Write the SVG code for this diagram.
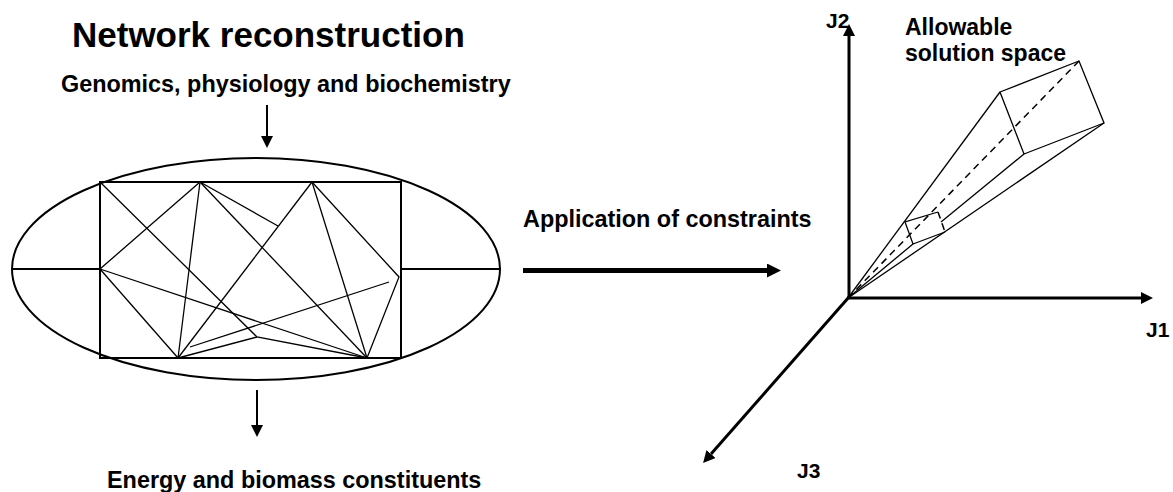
<svg xmlns="http://www.w3.org/2000/svg" width="1173" height="492" viewBox="0 0 1173 492">
<defs>
<style>
text{font-family:"Liberation Sans",Arial,sans-serif;font-weight:bold;fill:#000}
.t1{font-size:35px}
.t2{font-size:23.4px}
.t3{font-size:23px}
.ax{font-size:21px}
.thin{stroke:#000;stroke-width:1.3;fill:none}
.frame{stroke:#000;stroke-width:2;fill:none}
.axis{stroke:#000;stroke-width:3;fill:none}
.dash{stroke:#000;stroke-width:1.5;fill:none;stroke-dasharray:7 5}
.arrow{stroke:#000;stroke-width:2;fill:none}
</style>
<marker id="ahS" markerUnits="userSpaceOnUse" viewBox="0 0 12 12" refX="0" refY="6" markerWidth="12" markerHeight="12" orient="auto"><path d="M0,0 L12,6 L0,12 z" fill="#000"/></marker>
<marker id="ahA" markerUnits="userSpaceOnUse" viewBox="0 0 12 12" refX="0" refY="6" markerWidth="12" markerHeight="12" orient="auto"><path d="M0,0 L12,6 L0,12 z" fill="#000"/></marker>
<marker id="ahB" markerUnits="userSpaceOnUse" viewBox="0 0 14 14" refX="0" refY="7" markerWidth="14" markerHeight="14" orient="auto"><path d="M0,0 L14,7 L0,14 z" fill="#000"/></marker>
</defs>
<rect width="1173" height="492" fill="#fff"/>

<g id="network">
<ellipse cx="256" cy="269" rx="244" ry="111" class="frame" stroke-width="1.7"/>
<rect x="100" y="182" width="301" height="176" class="frame"/>
<line x1="12" y1="269" x2="100" y2="269" class="frame"/>
<line x1="401" y1="269" x2="500" y2="269" class="frame"/>
<polyline points="100,182 257,337 367,358" class="thin"/>
<line x1="200" y1="182" x2="100" y2="269" class="thin"/>
<line x1="200" y1="182" x2="178" y2="358" class="thin"/>
<line x1="200" y1="182" x2="278" y2="226" class="thin"/>
<line x1="200" y1="182" x2="367" y2="358" class="thin"/>
<line x1="312" y1="182" x2="178" y2="358" class="thin"/>
<line x1="312" y1="182" x2="367" y2="358" class="thin"/>
<polyline points="312,182 399,277 367,358" class="thin"/>
<line x1="100" y1="269" x2="178" y2="358" class="thin"/>
<line x1="100" y1="269" x2="367" y2="358" class="thin"/>
<line x1="190" y1="347" x2="389" y2="282" class="thin"/>
<line x1="178" y1="358" x2="257" y2="337" class="thin"/>
</g>

<g id="solution-space">
<line x1="848" y1="298" x2="1000" y2="92" class="thin"/>
<line x1="848" y1="298" x2="1104" y2="123" class="thin"/>
<line x1="1024" y1="154" x2="941" y2="222" class="thin"/>
<line x1="913" y1="244" x2="848" y2="298" class="thin"/>
<polygon points="1000,92 1079,61 1104,123 1024,154" class="thin"/>
<polyline points="938,212 905,222 913,244 945,232" class="thin"/>
<line x1="938" y1="212" x2="945" y2="232" class="dash" stroke-dasharray="4 3"/>
<line x1="848" y1="298" x2="1079" y2="61" class="dash"/>
</g>

<g id="axes">
<line x1="849" y1="299" x2="849" y2="36" class="axis" marker-end="url(#ahA)"/>
<line x1="847" y1="298" x2="1141" y2="298" class="axis" marker-end="url(#ahA)"/>
<line x1="849" y1="297" x2="711" y2="454" class="axis" marker-end="url(#ahA)"/>
</g>

<g id="connectors">
<line x1="267" y1="105" x2="267" y2="136" class="arrow" marker-end="url(#ahS)"/>
<line x1="257" y1="390" x2="257" y2="425" class="arrow" marker-end="url(#ahS)"/>
<line x1="523" y1="270.5" x2="767" y2="270.5" stroke="#000" stroke-width="5" marker-end="url(#ahB)"/>
</g>

<g id="labels">
<text x="72" y="47" class="t1">Network reconstruction</text>
<text x="61" y="92" class="t2">Genomics, physiology and biochemistry</text>
<text x="107" y="488" class="t2">Energy and biomass constituents</text>
<text x="523" y="227" class="t2">Application of constraints</text>
<text x="905" y="35" class="t3">Allowable</text>
<text x="905" y="61" class="t3">solution space</text>
<text x="826" y="28" class="ax">J2</text>
<text x="1146" y="337" class="ax">J1</text>
<text x="797" y="478" class="ax">J3</text>
</g>
</svg>
